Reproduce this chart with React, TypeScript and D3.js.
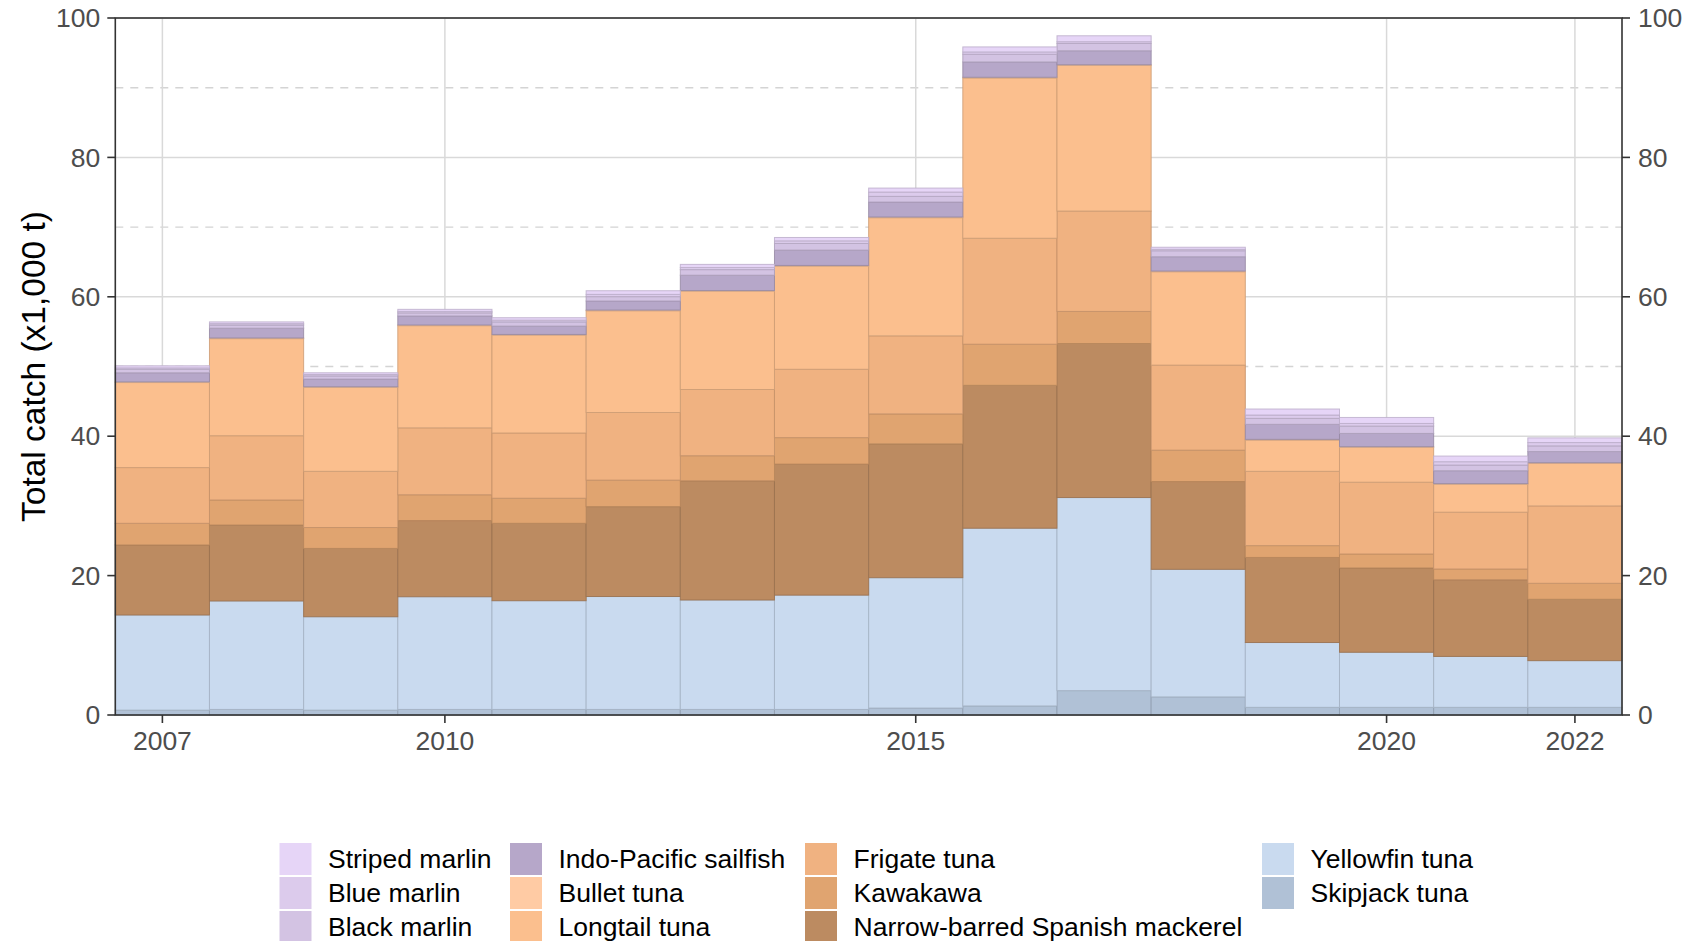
import React from "react";
import * as d3 from "d3";

const years = [2007, 2008, 2009, 2010, 2011, 2012, 2013, 2014, 2015, 2016, 2017, 2018, 2019, 2020, 2021, 2022];

// series values (x1,000 t), bottom of stack first
const skipjackTuna = [0.7, 0.8, 0.7, 0.8, 0.8, 0.8, 0.8, 0.8, 1.0, 1.3, 3.5, 2.6, 1.1, 1.1, 1.1, 1.1];
const yellowfinTuna = [13.65, 15.56, 13.4, 16.17, 15.6, 16.2, 15.7, 16.4, 18.7, 25.5, 27.7, 18.3, 9.3, 7.9, 7.3, 6.7];
const spanishMackerel = [10.05, 10.9, 9.8, 10.93, 11.1, 12.9, 17.1, 18.8, 19.2, 20.5, 22.1, 12.6, 12.2, 12.1, 11.0, 8.8];
const kawakawa = [3.1, 3.59, 3.0, 3.7, 3.6, 3.8, 3.6, 3.8, 4.3, 5.9, 4.6, 4.5, 1.7, 2.0, 1.55, 2.3];
const frigateTuna = [8.0, 9.22, 8.06, 9.6, 9.36, 9.7, 9.5, 9.8, 11.2, 15.2, 14.4, 12.2, 10.66, 10.3, 8.15, 11.1];
const longtailTuna = [12.2, 13.93, 12.04, 14.66, 14.04, 14.6, 14.1, 14.8, 16.95, 23.0, 20.9, 13.4, 4.49, 5.0, 4.0, 6.1];
const bulletTuna = [0.1, 0.1, 0.1, 0.1, 0.1, 0.1, 0.1, 0.1, 0.1, 0.1, 0.1, 0.1, 0.1, 0.1, 0.1, 0.1];
const sailfish = [1.3, 1.4, 1.1, 1.29, 1.2, 1.3, 2.2, 2.2, 2.15, 2.2, 2.0, 2.05, 2.15, 1.9, 1.85, 1.6];
const blackMarlin = [0.5, 0.45, 0.45, 0.45, 0.6, 0.62, 0.8, 0.95, 0.81, 1.1, 1.05, 0.86, 0.86, 1.05, 0.81, 0.81];
const blueMarlin = [0.2, 0.2, 0.2, 0.2, 0.25, 0.33, 0.3, 0.38, 0.62, 0.33, 0.25, 0.2, 0.48, 0.38, 0.48, 0.48];
const stripedMarlin = [0.3, 0.25, 0.25, 0.3, 0.35, 0.52, 0.45, 0.48, 0.57, 0.72, 0.85, 0.3, 0.86, 0.86, 0.81, 0.67];

const seriesNames = [
  "Skipjack tuna",
  "Yellowfin tuna",
  "Narrow-barred Spanish mackerel",
  "Kawakawa",
  "Frigate tuna",
  "Longtail tuna",
  "Bullet tuna",
  "Indo-Pacific sailfish",
  "Black marlin",
  "Blue marlin",
  "Striped marlin",
];
const seriesValues = [
  skipjackTuna, yellowfinTuna, spanishMackerel, kawakawa, frigateTuna, longtailTuna,
  bulletTuna, sailfish, blackMarlin, blueMarlin, stripedMarlin,
];
const seriesColors = [
  "#B0C1D6", "#C9DAEF", "#BC8B61", "#E0A470", "#F0B281", "#FBBF8E",
  "#FFCBA4", "#B6A7C9", "#D3C3E3", "#DCCBEC", "#E6D5F7",
];

// legend layout: column-major, 3 rows
const legendColumns = [
  ["Striped marlin", "Blue marlin", "Black marlin"],
  ["Indo-Pacific sailfish", "Bullet tuna", "Longtail tuna"],
  ["Frigate tuna", "Kawakawa", "Narrow-barred Spanish mackerel"],
  ["Yellowfin tuna", "Skipjack tuna"],
];

const yTicks = [0, 20, 40, 60, 80, 100];
const yMinor = [10, 30, 50, 70, 90];
const xTicks = [2007, 2010, 2015, 2020, 2022];

const W = 1689;
const H = 941;
const FONT = "'Liberation Sans', Arimo, Arial, Helvetica, sans-serif";

export default function App() {
  const left = 115.3;
  const right = 1622;
  const top = 18;
  const bottom = 715;

  const x = d3.scaleLinear().domain([2006.5, 2022.5]).range([left, right]);
  const y = d3.scaleLinear().domain([0, 100]).range([bottom, top]);

  const table = years.map((yr, i) => {
    const row: Record<string, number> = { year: yr };
    seriesNames.forEach((n, k) => (row[n] = seriesValues[k][i]));
    return row;
  });
  const stacked = d3.stack<Record<string, number>>().keys(seriesNames)(table);
  const colorOf = d3.scaleOrdinal<string, string>().domain(seriesNames).range(seriesColors);

  const legendColX = [279.5, 510, 805, 1262];
  const legendRowY = [843, 877, 911];
  const gridColor = "#D9D9D9";
  const axisColor = "#333333";
  const tickText = "#4D4D4D";

  return (
    <svg
      width={W}
      height={H}
      style={{ position: "absolute", left: 0, top: 0, background: "#fff" }}
      fontFamily={FONT}
    >
      <rect x={0} y={0} width={W} height={H} fill="#fff" />
      {/* minor dashed gridlines */}
      {yMinor.map((v) => (
        <line key={"mn" + v} x1={left} x2={right} y1={y(v)} y2={y(v)} stroke="#D4D4D4" strokeWidth={1.4} strokeDasharray="8,7" />
      ))}
      {/* major gridlines */}
      {yTicks.map((v) => (
        <line key={"mj" + v} x1={left} x2={right} y1={y(v)} y2={y(v)} stroke={gridColor} strokeWidth={1.5} />
      ))}
      {xTicks.map((v) => (
        <line key={"vx" + v} x1={x(v)} x2={x(v)} y1={top} y2={bottom} stroke={gridColor} strokeWidth={1.5} />
      ))}

      {/* stacked bars */}
      {stacked.map((layer) => {
        const fill = colorOf(layer.key);
        const stroke = d3.color(fill)!.darker(0.55).formatHex();
        return (
          <g key={layer.key}>
            {layer.map((d, i) => {
              const yr = years[i];
              const x0 = x(yr - 0.5);
              const x1 = x(yr + 0.5);
              const y0 = y(d[1]);
              const y1 = y(d[0]);
              return (
                <rect
                  key={yr}
                  x={x0}
                  y={y0}
                  width={x1 - x0}
                  height={Math.max(0, y1 - y0)}
                  fill={fill}
                  stroke={stroke}
                  strokeOpacity={0.85}
                  strokeWidth={1}
                />
              );
            })}
          </g>
        );
      })}

      {/* panel border / axes */}
      <rect x={left} y={top} width={right - left} height={bottom - top} fill="none" stroke={axisColor} strokeWidth={1.6} />

      {/* left y axis */}
      {yTicks.map((v) => (
        <g key={"yl" + v}>
          <line x1={left - 8} x2={left} y1={y(v)} y2={y(v)} stroke={axisColor} strokeWidth={1.6} />
          <text x={left - 15} y={y(v)} dy="0.35em" textAnchor="end" fontSize={26.5} fill={tickText}>
            {v}
          </text>
        </g>
      ))}
      {/* right y axis */}
      {yTicks.map((v) => (
        <g key={"yr" + v}>
          <line x1={right} x2={right + 8} y1={y(v)} y2={y(v)} stroke={axisColor} strokeWidth={1.6} />
          <text x={right + 16} y={y(v)} dy="0.35em" textAnchor="start" fontSize={26.5} fill={tickText}>
            {v}
          </text>
        </g>
      ))}
      {/* x axis */}
      {xTicks.map((v) => (
        <g key={"xt" + v}>
          <line x1={x(v)} x2={x(v)} y1={bottom} y2={bottom + 8} stroke={axisColor} strokeWidth={1.6} />
          <text x={x(v)} y={bottom + 34.5} textAnchor="middle" fontSize={26.5} fill={tickText}>
            {v}
          </text>
        </g>
      ))}

      {/* y axis title */}
      <text
        transform={`translate(45, ${(top + bottom) / 2}) rotate(-90)`}
        textAnchor="middle"
        fontSize={33.5}
        fill="#000"
      >
        Total catch (x1,000 t)
      </text>

      {/* legend */}
      {legendColumns.map((col, ci) =>
        col.map((name, ri) => (
          <g key={name}>
            <rect x={legendColX[ci]} y={legendRowY[ri]} width={32} height={32} fill={colorOf(name)} />
            <text x={legendColX[ci] + 48.5} y={legendRowY[ri] + 16} dy="0.35em" fontSize={26.5} fill="#000">
              {name}
            </text>
          </g>
        ))
      )}
    </svg>
  );
}
